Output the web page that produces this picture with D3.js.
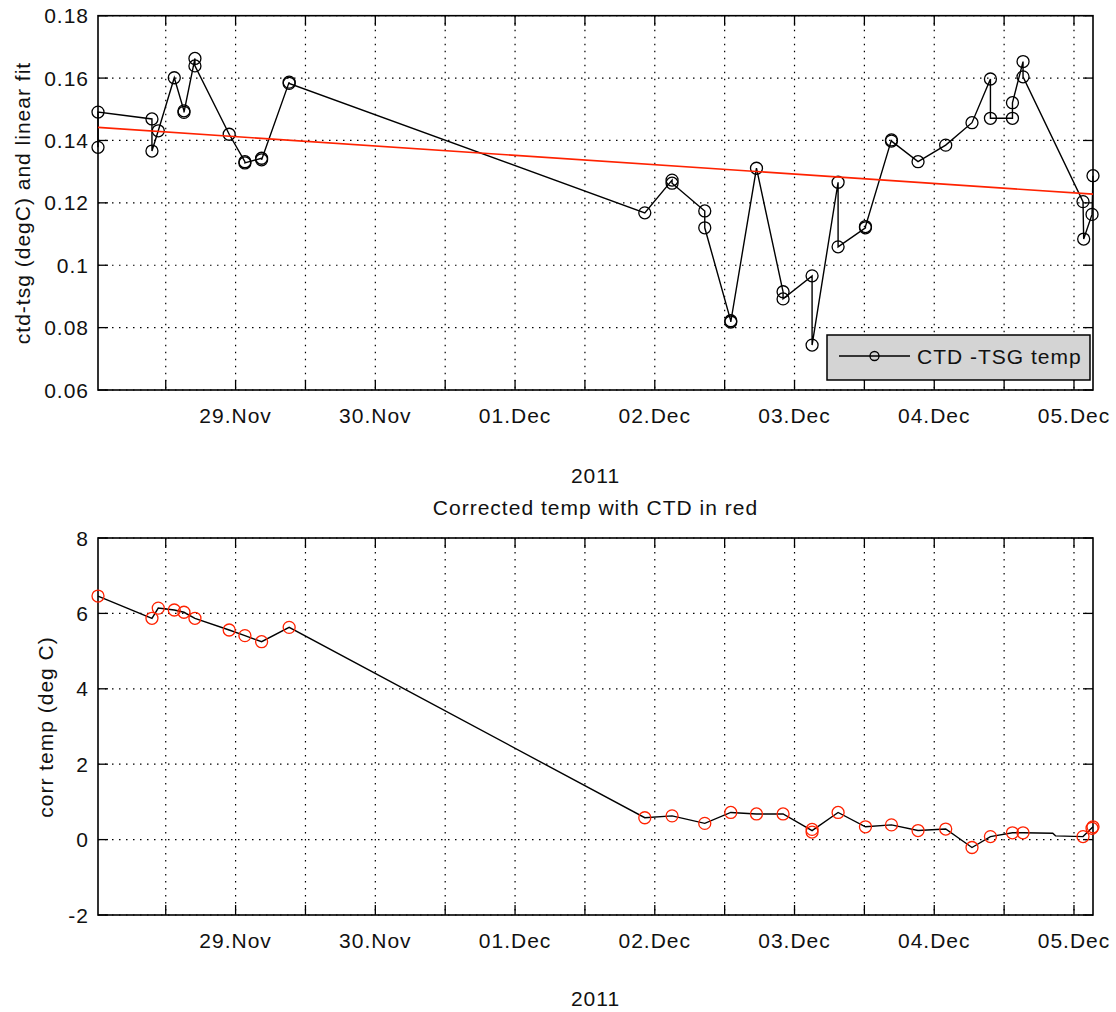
<!DOCTYPE html>
<html>
<head>
<meta charset="utf-8">
<script src="https://cdn.jsdelivr.net/npm/d3@7"></script>
<style>
body { margin: 0; background: #fff; }
text { font-family: "Liberation Sans", Arial, sans-serif; font-size: 21px; letter-spacing: 1px; fill: #111; }
</style>
</head>
<body>
<svg id="chart" width="1116" height="1012"></svg>
<script>
// top plot: ctd - tsg differences (in plotting order)
var diffTimes = ["2011-11-28 00:22","2011-11-28 00:22","2011-11-28 09:38","2011-11-28 09:38","2011-11-28 10:43",
  "2011-11-28 13:28","2011-11-28 15:08","2011-11-28 15:08","2011-11-28 17:01","2011-11-28 17:01",
  "2011-11-28 22:54","2011-11-29 01:36","2011-11-29 01:36","2011-11-29 04:28","2011-11-29 04:28",
  "2011-11-29 09:12","2011-11-29 09:12","2011-12-01 22:17","2011-12-02 02:58","2011-12-02 02:58",
  "2011-12-02 08:35","2011-12-02 08:35","2011-12-02 13:03","2011-12-02 13:03","2011-12-02 17:28",
  "2011-12-02 22:02","2011-12-02 22:02","2011-12-03 03:01","2011-12-03 03:01","2011-12-03 07:29",
  "2011-12-03 07:29","2011-12-03 12:11","2011-12-03 12:11","2011-12-03 16:39","2011-12-03 16:39",
  "2011-12-03 21:13","2011-12-04 01:58","2011-12-04 06:29","2011-12-04 09:39","2011-12-04 09:39",
  "2011-12-04 13:26","2011-12-04 13:26","2011-12-04 15:15","2011-12-04 15:15","2011-12-05 01:33",
  "2011-12-05 01:40","2011-12-05 03:06","2011-12-05 03:16"];
var diffValues = [0.1378,0.1491,0.1469,0.1366,0.1431,
  0.1601,0.1495,0.1490,0.1663,0.1639,
  0.1420,0.1332,0.1328,0.1343,0.1338,
  0.1587,0.1583,0.1168,0.1273,0.1263,
  0.1174,0.1120,0.0822,0.0818,0.1311,
  0.0915,0.0892,0.0966,0.0744,0.1266,
  0.1059,0.1120,0.1124,0.1402,0.1398,
  0.1332,0.1385,0.1457,0.1597,0.1471,
  0.1471,0.1521,0.1653,0.1604,0.1204,
  0.1084,0.1163,0.1287];
// linear fit end points
var fitTimes = ["2011-11-28 00:22","2011-12-05 03:16"];
var fitValues = [0.1442,0.1228];

// bottom plot: corrected tsg temp (line) and ctd temp (red circles)
var corrTimes = ["2011-11-28 00:22","2011-11-28 09:38","2011-11-28 10:43","2011-11-28 13:28","2011-11-28 15:08",
  "2011-11-28 17:01","2011-11-28 22:54","2011-11-29 01:36","2011-11-29 04:28","2011-11-29 09:12",
  "2011-12-01 22:17","2011-12-02 02:58","2011-12-02 08:35","2011-12-02 13:03","2011-12-02 17:28",
  "2011-12-02 22:02","2011-12-03 03:01","2011-12-03 07:29","2011-12-03 12:11","2011-12-03 16:39",
  "2011-12-03 21:13","2011-12-04 01:58","2011-12-04 06:29","2011-12-04 09:39","2011-12-04 13:26",
  "2011-12-04 15:15","2011-12-04 20:21","2011-12-04 20:50","2011-12-05 01:33","2011-12-05 03:16"];
var corrValues = [6.46,5.87,6.14,6.09,6.03,
  5.87,5.56,5.41,5.25,5.63,
  0.58,0.63,0.43,0.72,0.68,
  0.68,0.24,0.72,0.34,0.39,
  0.24,0.28,-0.21,0.08,0.18,
  0.18,0.17,0.10,0.08,0.34];
var ctdTimes = ["2011-11-28 00:22","2011-11-28 09:38","2011-11-28 10:43","2011-11-28 13:28","2011-11-28 15:08",
  "2011-11-28 17:01","2011-11-28 22:54","2011-11-29 01:36","2011-11-29 04:28","2011-11-29 09:12",
  "2011-12-01 22:17","2011-12-02 02:58","2011-12-02 08:35","2011-12-02 13:03","2011-12-02 17:28",
  "2011-12-02 22:02","2011-12-03 03:01","2011-12-03 03:01","2011-12-03 07:29","2011-12-03 12:11",
  "2011-12-03 16:39","2011-12-03 21:13","2011-12-04 01:58","2011-12-04 06:29","2011-12-04 09:39",
  "2011-12-04 13:26","2011-12-04 15:15","2011-12-05 01:33","2011-12-05 03:06","2011-12-05 03:16"];
var ctdValues = [6.46,5.87,6.14,6.09,6.03,
  5.87,5.56,5.41,5.25,5.63,
  0.58,0.63,0.43,0.72,0.68,
  0.68,0.27,0.20,0.72,0.34,
  0.39,0.24,0.28,-0.21,0.08,
  0.18,0.18,0.08,0.30,0.34];

var topYTicks = [0.06,0.08,0.1,0.12,0.14,0.16,0.18];
var botYTicks = [-2,0,2,4,6,8];

var parse = d3.timeParse("%Y-%m-%d %H:%M");
var svg = d3.select("#chart");

var left = 98, right = 1093;
var x = d3.scaleTime()
  .domain([parse(diffTimes[0]), parse(diffTimes[diffTimes.length-1])])
  .range([left, right]);
var xTicks = d3.timeHour.every(12).range(x.domain()[0], x.domain()[1]);
var dayFmt = d3.timeFormat("%d.%b");

var drawAxes = function(g, y, yTicks, top, bottom)
{
  // grid
  g.selectAll(".vgrid").data(xTicks).enter().append("line")
    .attr("x1", function(d){ return x(d) }).attr("x2", function(d){ return x(d) })
    .attr("y1", top).attr("y2", bottom)
    .attr("stroke", "#000").attr("stroke-width", 1.2).attr("stroke-dasharray", "1.5,5.5");
  g.selectAll(".hgrid").data(yTicks).enter().append("line")
    .attr("x1", left).attr("x2", right)
    .attr("y1", function(d){ return y(d) }).attr("y2", function(d){ return y(d) })
    .attr("stroke", "#000").attr("stroke-width", 1.2).attr("stroke-dasharray", "1.5,5.5");

  // inward ticks, all four sides
  var tl = 10;
  xTicks.forEach(function(d)
  {
    g.append("line").attr("x1", x(d)).attr("x2", x(d)).attr("y1", bottom).attr("y2", bottom - tl)
      .attr("stroke", "#000").attr("stroke-width", 1.3);
    g.append("line").attr("x1", x(d)).attr("x2", x(d)).attr("y1", top).attr("y2", top + tl)
      .attr("stroke", "#000").attr("stroke-width", 1.3);
    if (d.getHours() === 0)
    {
      g.append("text").attr("x", x(d)).attr("y", bottom + 33)
        .attr("text-anchor", "middle").text(dayFmt(d));
    }
  });
  yTicks.forEach(function(d)
  {
    g.append("line").attr("x1", left).attr("x2", left + tl).attr("y1", y(d)).attr("y2", y(d))
      .attr("stroke", "#000").attr("stroke-width", 1.3);
    g.append("line").attr("x1", right).attr("x2", right - tl).attr("y1", y(d)).attr("y2", y(d))
      .attr("stroke", "#000").attr("stroke-width", 1.3);
    g.append("text").attr("x", 89).attr("y", y(d)).attr("dy", "0.36em")
      .attr("text-anchor", "end").text(String(d));
  });

  g.append("rect").attr("x", left).attr("y", top)
    .attr("width", right - left).attr("height", bottom - top)
    .attr("fill", "none").attr("stroke", "#000").attr("stroke-width", 1.6);
}

// ---------- top plot ----------
var yTop = d3.scaleLinear().domain([0.06, 0.18]).range([390, 15.7]);
var gTop = svg.append("g");
drawAxes(gTop, yTop, topYTicks, 15.7, 390);

var diffData = diffTimes.map(function(t, i){ return {t: parse(t), v: diffValues[i]} });
var line1 = d3.line().x(function(d){ return x(d.t) }).y(function(d){ return yTop(d.v) });
gTop.append("path").datum(diffData).attr("d", line1)
  .attr("fill", "none").attr("stroke", "#000").attr("stroke-width", 1.4);
gTop.selectAll(".pt").data(diffData).enter().append("circle")
  .attr("cx", function(d){ return x(d.t) }).attr("cy", function(d){ return yTop(d.v) })
  .attr("r", 6).attr("fill", "none").attr("stroke", "#000").attr("stroke-width", 1.3);

var fitData = fitTimes.map(function(t, i){ return {t: parse(t), v: fitValues[i]} });
gTop.append("path").datum(fitData).attr("d", line1)
  .attr("fill", "none").attr("stroke", "#ff2200").attr("stroke-width", 1.6);

// legend
var lg = gTop.append("g");
lg.append("rect").attr("x", 827).attr("y", 335).attr("width", 263).attr("height", 45)
  .attr("fill", "#d4d4d4").attr("stroke", "#000").attr("stroke-width", 1.5);
lg.append("line").attr("x1", 839).attr("x2", 910).attr("y1", 356).attr("y2", 356)
  .attr("stroke", "#000").attr("stroke-width", 1.4);
lg.append("circle").attr("cx", 874.5).attr("cy", 356).attr("r", 4.5)
  .attr("fill", "none").attr("stroke", "#000").attr("stroke-width", 1.3);
lg.append("text").attr("x", 917).attr("y", 364).text("CTD -TSG temp");

gTop.append("text").attr("x", (left + right) / 2).attr("y", 483)
  .attr("text-anchor", "middle").text("2011");
gTop.append("text").attr("transform", "translate(30,203) rotate(-90)")
  .attr("text-anchor", "middle").text("ctd-tsg (degC) and linear fit");

// ---------- bottom plot ----------
var yBot = d3.scaleLinear().domain([-2, 8]).range([915, 538]);
var gBot = svg.append("g");
drawAxes(gBot, yBot, botYTicks, 538, 915);

var corrData = corrTimes.map(function(t, i){ return {t: parse(t), v: corrValues[i]} });
var ctdData = ctdTimes.map(function(t, i){ return {t: parse(t), v: ctdValues[i]} });
var line2 = d3.line().x(function(d){ return x(d.t) }).y(function(d){ return yBot(d.v) });
gBot.append("path").datum(corrData).attr("d", line2)
  .attr("fill", "none").attr("stroke", "#000").attr("stroke-width", 1.4);
gBot.selectAll(".ctd").data(ctdData).enter().append("circle")
  .attr("cx", function(d){ return x(d.t) }).attr("cy", function(d){ return yBot(d.v) })
  .attr("r", 6).attr("fill", "none").attr("stroke", "#ff2200").attr("stroke-width", 1.3);

gBot.append("text").attr("x", (left + right) / 2).attr("y", 515)
  .attr("text-anchor", "middle").text("Corrected temp with CTD in red");
gBot.append("text").attr("x", (left + right) / 2).attr("y", 1006)
  .attr("text-anchor", "middle").text("2011");
gBot.append("text").attr("transform", "translate(53,727) rotate(-90)")
  .attr("text-anchor", "middle").text("corr temp (deg C)");
</script>
</body>
</html>
